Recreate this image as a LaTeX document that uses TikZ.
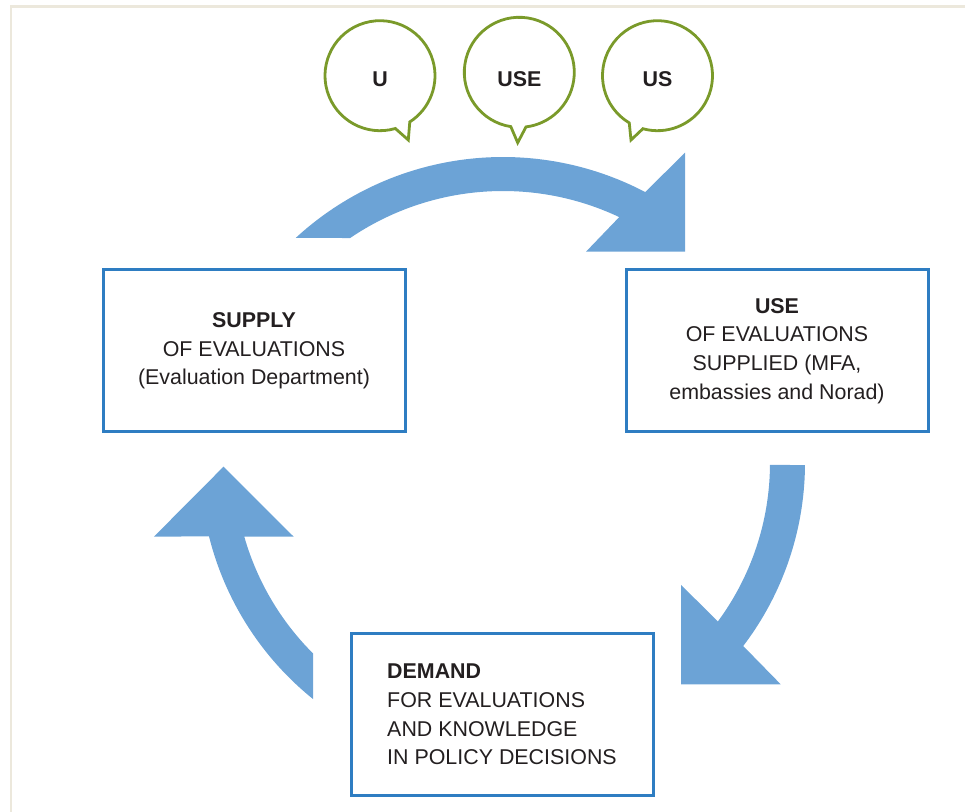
\documentclass[tikz,border=0pt]{standalone}
\usepackage{fontspec}
\setmainfont{Liberation Sans}
\usepackage{tikz}
\usetikzlibrary{calc}
\definecolor{boxblue}{RGB}{46,125,194}
\definecolor{flowblue}{RGB}{108,163,214}
\definecolor{bubblegreen}{RGB}{122,154,42}
\definecolor{framebeige}{RGB}{236,232,220}
\definecolor{inkdark}{RGB}{35,31,32}
\tikzset{evalbox/.style={draw=boxblue, line width=1.5pt, minimum width=151pt, minimum height=81pt, align=center, text=inkdark, font=\fontsize{10.7}{14.3}\selectfont}}
\tikzset{flow/.style={fill=flowblue}}
\tikzset{bubble/.style={draw=bubblegreen, line width=1.4pt, fill=white}}
\tikzset{bubbletext/.style={inner sep=0pt, text=inkdark, font=\fontsize{10.7}{14.3}\selectfont\bfseries}}

\begin{document}
\begin{tikzpicture}[x=0.5pt,y=-0.5pt]
 \useasboundingbox (0,0) rectangle (965,812);
 \draw[framebeige, line width=1.2pt] (11,812) -- (11,6.5) -- (965,6.5);
 \coordinate (ctr) at (503,463);
 \fill[flow] ($(ctr)+(227.4:306)$) arc[start angle=227.4, end angle=297.7, radius=306] -- (685,152.7) -- (685,251.7) -- (586,251.7) -- ($(ctr)+(295.3:272)$) arc[start angle=295.3, end angle=235.8, radius=272] -- cycle;
 \fill[flow] ($(ctr)+(0.4:302)$) arc[start angle=0.4, end angle=37.3, radius=302] -- (780.7,684.3) -- (681.1,684.3) -- (681.1,585) -- ($(ctr)+(36.4:267)$) arc[start angle=36.4, end angle=0.4, radius=267] -- cycle;
 \fill[flow] ($(ctr)+(128.8:303)$) arc[start angle=128.8, end angle=166, radius=303] -- (153.9,536.7) -- (223.5,466.7) -- (293.7,536.7) -- ($(ctr)+(164.1:269)$) arc[start angle=164.1, end angle=134.9, radius=269] -- cycle;
 \coordinate (cu) at (380,75.7);
 \coordinate (cuse) at (519.3,72.3);
 \coordinate (cus) at (657.5,75.7);
 \draw[bubble] ($(cu)+(73.8:55)$) arc[start angle=73.8, end angle=417.2, radius=55] -- (408.3,140) -- cycle;
 \draw[bubble] ($(cuse)+(98.9:55)$) arc[start angle=98.9, end angle=443, radius=55] -- (517.7,142.7) -- cycle;
 \draw[bubble] ($(cus)+(120.9:55)$) arc[start angle=120.9, end angle=465.4, radius=55] -- (631,140) -- cycle;
 \node[bubbletext] (u) at (380,79) {U};
 \node[bubbletext] (use word) at (519.3,79) {USE};
 \node[bubbletext] (us) at (657.5,79) {US};
 \node[evalbox] (supply) at (254,351) {\textbf{SUPPLY}\\OF EVALUATIONS\\(Evaluation Department)};
 \node[evalbox] (use) at (777,351) {\textbf{USE}\\OF EVALUATIONS\\SUPPLIED (MFA,\\embassies and Norad)};
 \node[evalbox, align=left] (demand) at (502,714.5) {\textbf{DEMAND}\\FOR EVALUATIONS\\AND KNOWLEDGE\\IN POLICY DECISIONS};
\end{tikzpicture}
\end{document}
